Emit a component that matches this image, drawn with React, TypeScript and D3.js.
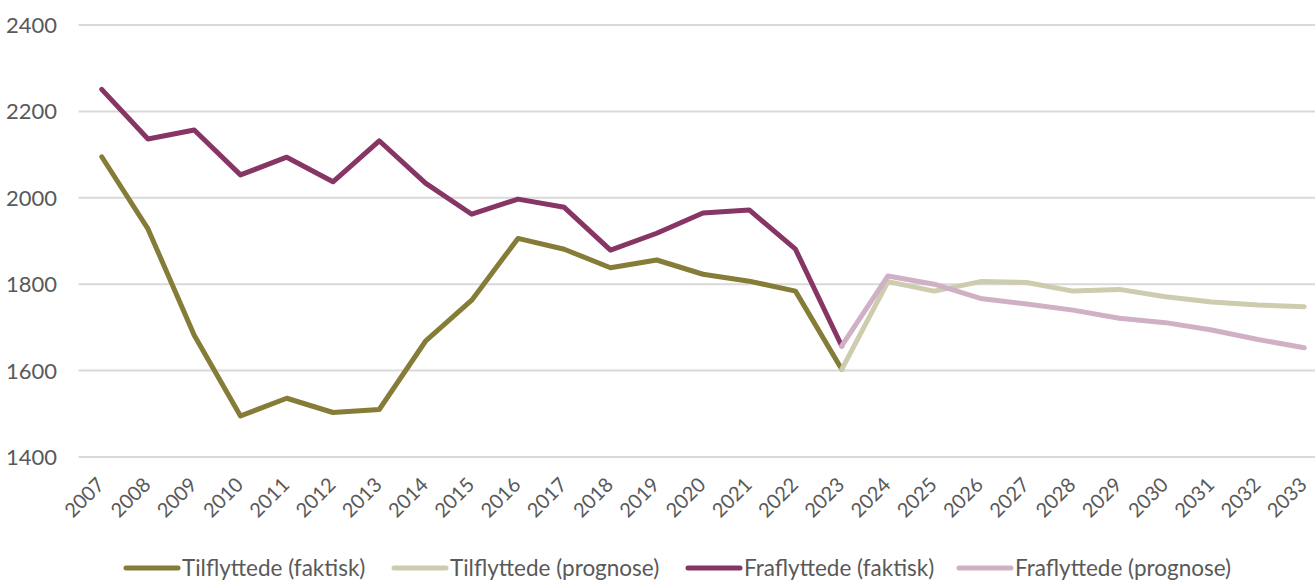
import React, { useEffect, useRef } from 'react';
import * as d3 from 'd3';

const years = ['2007', '2008', '2009', '2010', '2011', '2012', '2013', '2014', '2015', '2016', '2017', '2018', '2019',
  '2020', '2021', '2022', '2023', '2024', '2025', '2026', '2027', '2028', '2029', '2030', '2031', '2032', '2033'];

const tilFaktiskYears = years.slice(0, 17);
const tilFaktisk = [2095, 1928, 1682, 1495, 1536, 1503, 1510, 1668, 1763, 1906, 1881, 1838, 1856, 1823, 1807, 1784, 1603];

const tilPrognoseYears = years.slice(16);
const tilPrognose = [1603, 1806, 1784, 1806, 1804, 1784, 1788, 1771, 1759, 1752, 1748];

const fraFaktiskYears = years.slice(0, 17);
const fraFaktisk = [2251, 2136, 2157, 2053, 2094, 2037, 2132, 2034, 1962, 1997, 1978, 1879, 1918, 1965, 1972, 1881, 1657];

const fraPrognoseYears = years.slice(16);
const fraPrognose = [1657, 1819, 1800, 1767, 1754, 1740, 1721, 1711, 1694, 1672, 1653];

const yTicks = [1400, 1600, 1800, 2000, 2200, 2400];

const series = [
  { name: 'Tilflyttede (faktisk)', x: tilFaktiskYears, y: tilFaktisk, color: '#847c37' },
  { name: 'Tilflyttede (prognose)', x: tilPrognoseYears, y: tilPrognose, color: '#cdccae' },
  { name: 'Fraflyttede (faktisk)', x: fraFaktiskYears, y: fraFaktisk, color: '#863564' },
  { name: 'Fraflyttede (prognose)', x: fraPrognoseYears, y: fraPrognose, color: '#d0b0c5' },
];
// prognose lines sit on top of faktisk where they meet in 2023
const drawOrder = [0, 2, 1, 3];
const legendX = [124, 392, 686, 957];

const width = 1315;
const height = 581;

export default function App() {
  const ref = useRef<SVGSVGElement>(null);

  useEffect(() => {
    document.body.style.margin = '0';
    document.body.style.overflow = 'hidden';

    const svg = d3.select(ref.current);
    svg.selectAll('*').remove();

    const left = 78.6;
    const x = d3.scaleBand().domain(years).range([left, left + 27 * 46.25]);
    const y = d3.scaleLinear().domain([1400, 2400]).range([457, 25]);
    const font = 'Lato, "Open Sans", sans-serif';

    svg.append('g').selectAll('line').data(yTicks).join('line')
      .attr('x1', left).attr('x2', width)
      .attr('y1', d => y(d)).attr('y2', d => y(d))
      .attr('stroke', '#d9d9d9').attr('stroke-width', 2);

    svg.append('g').selectAll('text').data(yTicks).join('text')
      .attr('x', 57).attr('y', d => y(d))
      .attr('dy', '0.36em')
      .attr('text-anchor', 'end')
      .style('font-family', font).style('font-size', '22px').style('fill', '#595959')
      .text(d => d);

    svg.append('g').selectAll('text').data(years).join('text')
      .attr('transform', d => `translate(${x(d)! + x.bandwidth() / 2 + 4}, 486) rotate(-45)`)
      .attr('text-anchor', 'end')
      .style('font-family', font).style('font-size', '20px').style('fill', '#595959')
      .text(d => d);

    const line = d3.line<[string, number]>()
      .x(d => x(d[0])! + x.bandwidth() / 2)
      .y(d => y(d[1]));

    drawOrder.forEach(i => {
      const s = series[i];
      svg.append('path')
        .datum(s.x.map((yr, j) => [yr, s.y[j]] as [string, number]))
        .attr('d', line)
        .attr('fill', 'none')
        .attr('stroke', s.color)
        .attr('stroke-width', 5)
        .attr('stroke-linejoin', 'round')
        .attr('stroke-linecap', 'round');
    });

    const legend = svg.append('g').selectAll('g').data(series).join('g')
      .attr('transform', (d, i) => `translate(${legendX[i]}, 568)`);
    legend.append('line')
      .attr('x1', 2).attr('x2', 54)
      .attr('stroke', d => d.color).attr('stroke-width', 5).attr('stroke-linecap', 'round');
    legend.append('text')
      .attr('x', 58).attr('dy', '0.36em')
      .style('font-family', font).style('font-size', '22.5px').style('fill', '#595959')
      .text(d => d.name);
  }, []);

  return <svg ref={ref} width={width} height={height} style={{ display: 'block', position: 'absolute', left: 0, top: 0 }} />;
}
